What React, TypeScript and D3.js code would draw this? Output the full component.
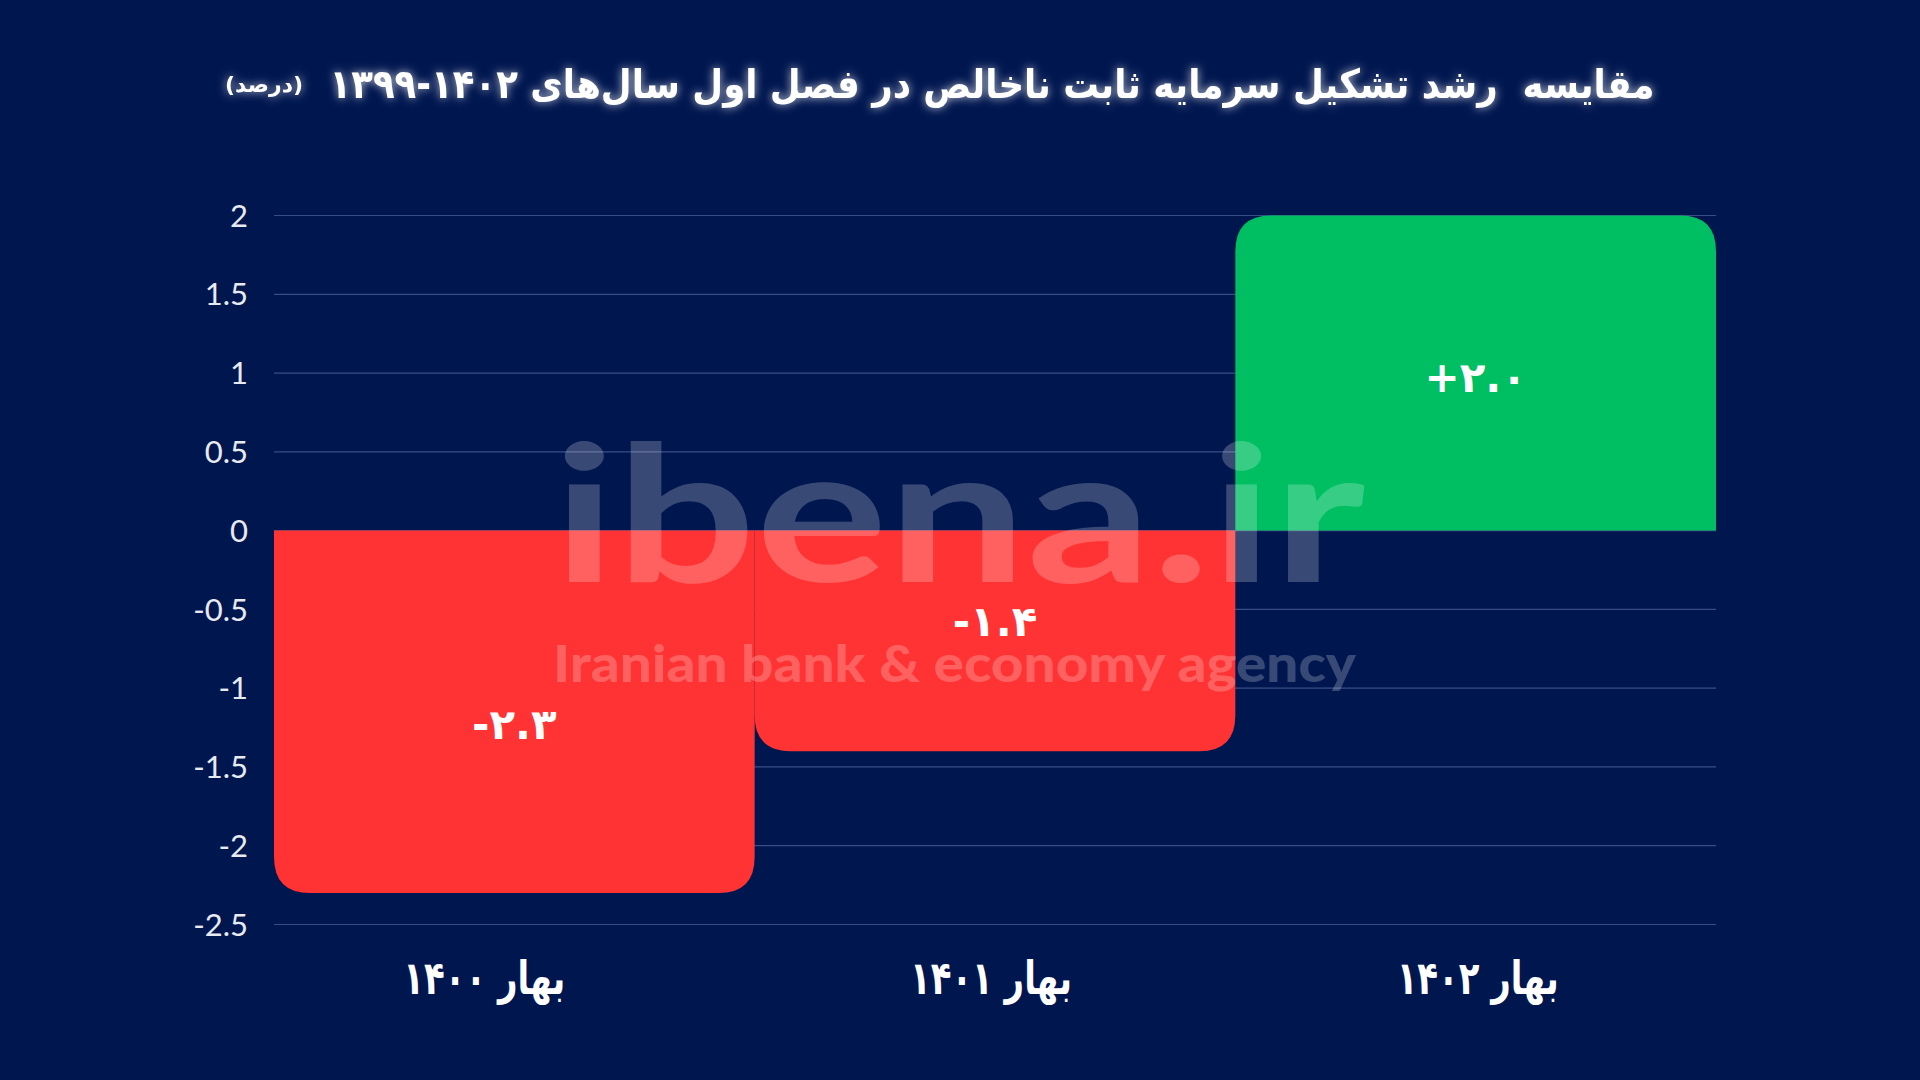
import React from "react";
import * as d3 from "d3";

const categories = ["بهار ۱۴۰۰", "بهار ۱۴۰۱", "بهار ۱۴۰۲"];
const values = [-2.3, -1.4, 2.0];
const valueLabels = ["-۲.۳", "-۱.۴", "+۲.۰"];
const yTicks = [2, 1.5, 1, 0.5, 0, -0.5, -1, -1.5, -2, -2.5];
const titleText = "مقایسه  رشد تشکیل سرمایه ثابت ناخالص در فصل اول سال‌های ۱۴۰۲-۱۳۹۹";
const unitText = "(درصد)";

const W = 1920;
const H = 1080;
const BG = "#00164f";
const RED = "#ff3333";
const GREEN = "#00bf63";
const FA = "'DejaVu Sans', 'Noto Sans', sans-serif";

// label placement tweaks (pixels), kept apart from the data
const labelNudge = [12, -20, 4];
const catNudge = [-30, -4, 2];

function barPath(x0: number, x1: number, yTop: number, yBot: number, r: number, roundTop: boolean) {
  const h = yBot - yTop;
  const rr = Math.min(r, h / 2, (x1 - x0) / 2);
  if (roundTop) {
    return `M${x0},${yBot} L${x0},${yTop + rr} Q${x0},${yTop} ${x0 + rr},${yTop} L${x1 - rr},${yTop} Q${x1},${yTop} ${x1},${yTop + rr} L${x1},${yBot} Z`;
  }
  return `M${x0},${yTop} L${x1},${yTop} L${x1},${yBot - rr} Q${x1},${yBot} ${x1 - rr},${yBot} L${x0 + rr},${yBot} Q${x0},${yBot} ${x0},${yBot - rr} Z`;
}

export default function App() {
  const left = 274;
  const right = 1716;
  const x = d3.scaleBand<string>().domain(categories).range([left, right]).padding(0);
  const y = d3.scaleLinear().domain([-2.5, 2]).range([924.5, 215.5]);
  const bw = x.bandwidth();

  return (
    <svg
      width={W}
      height={H}
      viewBox={`0 0 ${W} ${H}`}
      style={{ position: "absolute", top: 0, left: 0, display: "block" }}
    >
      <defs>
        <filter id="glow" x="-10%" y="-60%" width="120%" height="220%">
          <feGaussianBlur in="SourceAlpha" stdDeviation="5" result="b" />
          <feFlood floodColor="#ffffff" floodOpacity="0.75" />
          <feComposite in2="b" operator="in" result="g" />
          <feMerge>
            <feMergeNode in="g" />
            <feMergeNode in="SourceGraphic" />
          </feMerge>
        </filter>
      </defs>
      <rect x={0} y={0} width={W} height={H} fill={BG} />

      {/* title */}
      <g filter="url(#glow)">
        <text
          x={992}
          y={98}
          fill="#ffffff"
          fontFamily={FA}
          fontWeight="bold"
          fontSize={40}
          direction="rtl"
          textAnchor="middle"
          textLength={1325}
          lengthAdjust="spacingAndGlyphs"
          style={{ whiteSpace: "pre" }}
        >
          {titleText}
        </text>
        <text
          x={264}
          y={92}
          fill="#ffffff"
          fontFamily={FA}
          fontWeight="bold"
          fontSize={22}
          direction="rtl"
          textAnchor="middle"
        >
          {unitText}
        </text>
      </g>

      {/* gridlines */}
      {yTicks.map((t) => (
        <line
          key={"g" + t}
          x1={left}
          x2={right}
          y1={y(t)}
          y2={y(t)}
          stroke="#3b4c85"
          strokeWidth={1.2}
        />
      ))}

      {/* y tick labels */}
      {yTicks.map((t) => (
        <text
          key={"t" + t}
          x={248}
          y={y(t)}
          dy="0.36em"
          fill="#e8eaf2"
          fontFamily="Lato, 'DejaVu Sans', sans-serif"
          fontSize={31}
          textAnchor="end"
        >
          {t}
        </text>
      ))}

      {/* bars */}
      {categories.map((c, i) => {
        const v = values[i];
        const x0 = x(c)!;
        const yTop = v >= 0 ? y(v) : y(0);
        const yBot = v >= 0 ? y(0) : y(v);
        return (
          <path
            key={"b" + c}
            d={barPath(x0, x0 + bw, yTop, yBot, 36, v >= 0)}
            fill={v >= 0 ? GREEN : RED}
          />
        );
      })}

      {/* bar value labels */}
      {categories.map((c, i) => (
        <text
          key={"l" + c}
          x={x(c)! + bw / 2}
          y={y(values[i] / 2) + labelNudge[i]}
          dy="0.35em"
          fill="#ffffff"
          fontFamily={FA}
          fontWeight="bold"
          fontSize={42}
          textAnchor="middle"
          direction="ltr"
        >
          {valueLabels[i]}
        </text>
      ))}

      {/* watermark */}
      <g opacity={0.22} fill="#ffffff">
        <text
          x={553}
          y={582}
          fontFamily="Lato, 'Open Sans', sans-serif"
          fontWeight={700}
          fontSize={190}
          textLength={812}
          lengthAdjust="spacingAndGlyphs"
        >
          ibena.ir
        </text>
        <text
          x={553}
          y={682}
          fontFamily="Lato, 'Open Sans', sans-serif"
          fontWeight={900}
          fontSize={52}
          textLength={803}
          lengthAdjust="spacingAndGlyphs"
        >
          Iranian bank &amp; economy agency
        </text>
      </g>

      {/* category labels */}
      {categories.map((c, i) => (
        <text
          key={"c" + c}
          x={x(c)! + bw / 2 + catNudge[i]}
          y={978}
          dy="0.35em"
          fill="#ffffff"
          fontFamily={FA}
          fontWeight="bold"
          fontSize={46}
          textAnchor="middle"
          direction="rtl"
          textLength={162}
          lengthAdjust="spacingAndGlyphs"
        >
          {c}
        </text>
      ))}
    </svg>
  );
}
